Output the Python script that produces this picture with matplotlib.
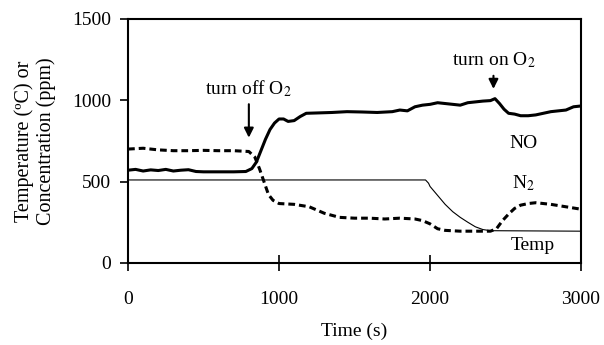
import matplotlib
matplotlib.use("Agg")
import matplotlib.pyplot as plt

plt.rcParams['font.family'] = ['Liberation Serif', 'DejaVu Serif']
plt.rcParams['mathtext.fontset'] = 'stix'

# NO concentration (ppm)
t_no = [0, 50, 100, 150, 200, 250, 300, 350, 400, 450, 500, 600, 700, 780, 820,
        850, 880, 910, 940, 970, 1000, 1030, 1060, 1100, 1140, 1180, 1250, 1350,
        1450, 1550, 1650, 1750, 1800, 1850, 1900, 1950, 2000, 2050, 2100, 2150,
        2200, 2250, 2300, 2350, 2400, 2430, 2460, 2490, 2520, 2560, 2600, 2650,
        2700, 2750, 2800, 2850, 2900, 2950, 3000]
no_vals = [570, 575, 565, 572, 568, 575, 565, 570, 573, 562, 560, 560, 560, 562, 580,
           620, 690, 760, 820, 860, 885, 885, 870, 875, 900, 920, 922, 925,
           930, 928, 925, 930, 940, 935, 960, 970, 975, 985, 980, 975,
           970, 985, 990, 995, 998, 1010, 980, 945, 920, 915, 905, 905,
           910, 920, 930, 935, 940, 960, 965]

# N2 concentration (ppm)
t_n2 = [0, 100, 200, 300, 400, 500, 600, 700, 800, 840, 870, 900, 930, 960, 1000,
        1100, 1200, 1300, 1400, 1500, 1600, 1700, 1800, 1900, 1950, 2000, 2050,
        2100, 2200, 2300, 2400, 2440, 2480, 2520, 2560, 2600, 2650, 2700, 2800,
        2900, 3000]
n2_vals = [700, 705, 695, 690, 690, 692, 690, 690, 685, 650, 580, 500, 420, 385, 365,
           360, 345, 305, 280, 275, 275, 270, 275, 270, 260, 240, 210,
           200, 195, 195, 195, 210, 260, 300, 335, 355, 365, 370, 360,
           345, 330]

# Temperature (C)
t_temp = [0, 1970, 1990, 2000, 2050, 2100, 2150, 2200, 2250, 2300, 2350, 2400, 3000]
temp_vals = [510, 510, 490, 470, 415, 360, 315, 280, 250, 222, 205, 198, 195]

fig = plt.figure(figsize=(6.04, 3.45), dpi=100)
ax = fig.add_axes([0.212, 0.238, 0.75, 0.707])

ax.plot(t_temp, temp_vals, color='black', lw=0.8)
ax.plot(t_n2, n2_vals, color='black', lw=2.2, dashes=(2.2, 1.3))
ax.plot(t_no, no_vals, color='black', lw=2.2)

ax.set_xlim(0, 3000)
ax.set_ylim(0, 1500)
ax.set_xticks([0, 1000, 2000, 3000])
ax.set_yticks([0, 500, 1000, 1500])
ax.tick_params(axis='x', direction='inout', length=11, width=1.2, labelsize=14, pad=15)
ax.tick_params(axis='y', direction='out', length=6, width=1.2, labelsize=14, pad=6)
for s in ax.spines.values():
    s.set_linewidth(1.5)

ax.set_xlabel('Time (s)', fontsize=14, labelpad=10)
ax.set_ylabel('Temperature (ºC) or\nConcentration (ppm)', fontsize=14.5, labelpad=12,
              linespacing=1.15)

ax.annotate('turn off O$_2$', xy=(800, 770), xytext=(800, 1010), ha='center',
            va='bottom', fontsize=14,
            arrowprops=dict(arrowstyle='-|>', color='black', lw=1.5,
                            mutation_scale=14, shrinkA=2, shrinkB=0))
ax.annotate('turn on O$_2$', xy=(2420, 1070), xytext=(2420, 1185), ha='center',
            va='bottom', fontsize=14,
            arrowprops=dict(arrowstyle='-|>', color='black', lw=1.5,
                            mutation_scale=14, shrinkA=2, shrinkB=0))

ax.text(2620, 737, 'NO', ha='center', va='center', fontsize=14)
ax.text(2620, 490, 'N$_2$', ha='center', va='center', fontsize=14)
ax.text(2680, 110, 'Temp', ha='center', va='center', fontsize=14)

fig.savefig('out.png', dpi=100)
